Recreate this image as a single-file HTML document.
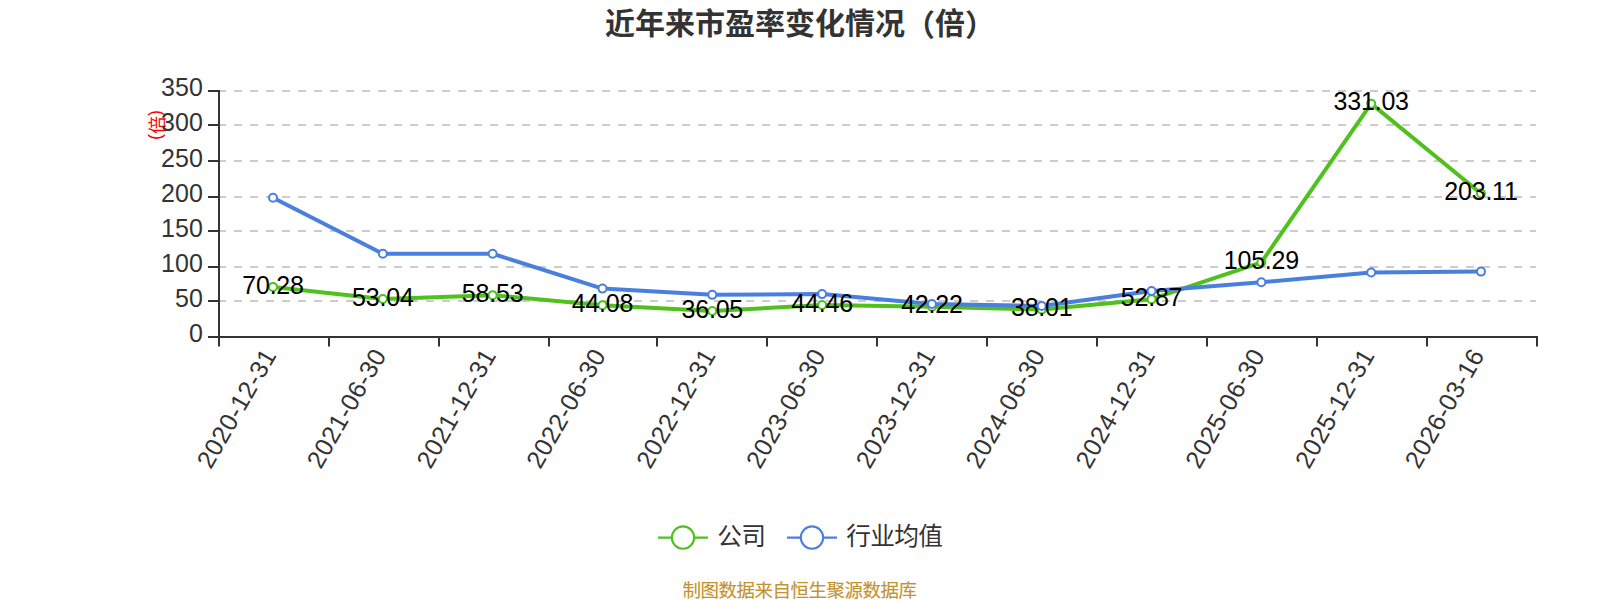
<!DOCTYPE html>
<html lang="zh-CN"><head><meta charset="utf-8"><title>近年来市盈率变化情况（倍）</title>
<style>
html,body{margin:0;padding:0;background:#fff;}
body{width:1600px;height:600px;overflow:hidden;position:relative;font-family:"Liberation Sans","Noto Sans CJK SC",sans-serif;}
svg{position:absolute;left:0;top:0;display:block}
text{font-family:"Liberation Sans","Noto Sans CJK SC",sans-serif;}
.cjk{font-family:"Liberation Sans","Noto Sans CJK SC",sans-serif;}
</style></head><body>
<svg width="1600" height="600" viewBox="0 0 1600 600">
<rect width="1600" height="600" fill="#fff"/>
<text class="cjk" x="800" y="33.7" font-size="30" font-weight="bold" fill="#333" text-anchor="middle">近年来市盈率变化情况<tspan dy="2.4">（</tspan><tspan dy="-2.4">倍</tspan><tspan dy="2.4">）</tspan></text>
<g stroke="#ccc" stroke-width="2" stroke-dasharray="8 8">
<line x1="218" y1="301" x2="1536" y2="301"/>
<line x1="218" y1="267" x2="1536" y2="267"/>
<line x1="218" y1="231" x2="1536" y2="231"/>
<line x1="218" y1="197" x2="1536" y2="197"/>
<line x1="218" y1="161" x2="1536" y2="161"/>
<line x1="218" y1="125" x2="1536" y2="125"/>
<line x1="218" y1="91" x2="1536" y2="91"/>
</g>
<g stroke="#333" stroke-width="2">
<line x1="219" y1="90" x2="219" y2="338"/>
<line x1="218" y1="337" x2="1538" y2="337"/>
<line x1="208" y1="337" x2="219" y2="337"/>
<line x1="208" y1="301" x2="219" y2="301"/>
<line x1="208" y1="267" x2="219" y2="267"/>
<line x1="208" y1="231" x2="219" y2="231"/>
<line x1="208" y1="197" x2="219" y2="197"/>
<line x1="208" y1="161" x2="219" y2="161"/>
<line x1="208" y1="125" x2="219" y2="125"/>
<line x1="208" y1="91" x2="219" y2="91"/>
<line x1="219" y1="337" x2="219" y2="346.5"/>
<line x1="329" y1="337" x2="329" y2="346.5"/>
<line x1="439" y1="337" x2="439" y2="346.5"/>
<line x1="549" y1="337" x2="549" y2="346.5"/>
<line x1="657" y1="337" x2="657" y2="346.5"/>
<line x1="767" y1="337" x2="767" y2="346.5"/>
<line x1="877" y1="337" x2="877" y2="346.5"/>
<line x1="987" y1="337" x2="987" y2="346.5"/>
<line x1="1097" y1="337" x2="1097" y2="346.5"/>
<line x1="1207" y1="337" x2="1207" y2="346.5"/>
<line x1="1317" y1="337" x2="1317" y2="346.5"/>
<line x1="1427" y1="337" x2="1427" y2="346.5"/>
<line x1="1537" y1="337" x2="1537" y2="346.5"/>
</g>
<text class="cjk" transform="translate(155.2,125) rotate(-90)" font-size="18" fill="#f00" text-anchor="middle" dominant-baseline="central">(<tspan dy="2.4">倍</tspan><tspan dy="-2.4">)</tspan></text>
<g font-size="25" fill="#333" text-anchor="end">
<text x="202.8" y="342.30">0</text>
<text x="202.8" y="307.16">50</text>
<text x="202.8" y="272.01">100</text>
<text x="202.8" y="236.87">150</text>
<text x="202.8" y="201.73">200</text>
<text x="202.8" y="166.59">250</text>
<text x="202.8" y="131.44">300</text>
<text x="202.8" y="96.30">350</text>
</g>
<g font-size="25" fill="#333" text-anchor="end" letter-spacing="0.5">
<text transform="translate(269.51,350.40) rotate(-60)" dominant-baseline="central">2020-12-31</text>
<text transform="translate(379.33,350.40) rotate(-60)" dominant-baseline="central">2021-06-30</text>
<text transform="translate(489.14,350.40) rotate(-60)" dominant-baseline="central">2021-12-31</text>
<text transform="translate(598.96,350.40) rotate(-60)" dominant-baseline="central">2022-06-30</text>
<text transform="translate(708.78,350.40) rotate(-60)" dominant-baseline="central">2022-12-31</text>
<text transform="translate(818.59,350.40) rotate(-60)" dominant-baseline="central">2023-06-30</text>
<text transform="translate(928.41,350.40) rotate(-60)" dominant-baseline="central">2023-12-31</text>
<text transform="translate(1038.23,350.40) rotate(-60)" dominant-baseline="central">2024-06-30</text>
<text transform="translate(1148.04,350.40) rotate(-60)" dominant-baseline="central">2024-12-31</text>
<text transform="translate(1257.86,350.40) rotate(-60)" dominant-baseline="central">2025-06-30</text>
<text transform="translate(1367.67,350.40) rotate(-60)" dominant-baseline="central">2025-12-31</text>
<text transform="translate(1477.49,350.40) rotate(-60)" dominant-baseline="central">2026-03-16</text>
</g>
<polyline points="273.01,286.90 382.83,299.02 492.64,295.16 602.46,305.32 712.28,310.96 822.09,305.05 931.91,306.63 1041.73,309.58 1151.54,299.14 1261.36,262.30 1371.17,103.63 1480.99,193.54" fill="none" stroke="#50c11c" stroke-width="4" stroke-linejoin="bevel"/>
<g fill="#fff" stroke="#50c11c" stroke-width="2">
<circle cx="273.01" cy="286.90" r="4"/>
<circle cx="382.83" cy="299.02" r="4"/>
<circle cx="492.64" cy="295.16" r="4"/>
<circle cx="602.46" cy="305.32" r="4"/>
<circle cx="712.28" cy="310.96" r="4"/>
<circle cx="822.09" cy="305.05" r="4"/>
<circle cx="931.91" cy="306.63" r="4"/>
<circle cx="1041.73" cy="309.58" r="4"/>
<circle cx="1151.54" cy="299.14" r="4"/>
<circle cx="1261.36" cy="262.30" r="4"/>
<circle cx="1371.17" cy="103.63" r="4"/>
<circle cx="1480.99" cy="193.54" r="4"/>
</g>
<polyline points="273.01,197.75 382.83,253.75 492.64,253.75 602.46,288.60 712.28,294.85 822.09,294.10 931.91,304.00 1041.73,305.90 1151.54,291.00 1261.36,282.25 1371.17,272.50 1480.99,271.60" fill="none" stroke="#4a7fe0" stroke-width="4" stroke-linejoin="bevel"/>
<g fill="#fff" stroke="#4a7fe0" stroke-width="2">
<circle cx="273.01" cy="197.75" r="4"/>
<circle cx="382.83" cy="253.75" r="4"/>
<circle cx="492.64" cy="253.75" r="4"/>
<circle cx="602.46" cy="288.60" r="4"/>
<circle cx="712.28" cy="294.85" r="4"/>
<circle cx="822.09" cy="294.10" r="4"/>
<circle cx="931.91" cy="304.00" r="4"/>
<circle cx="1041.73" cy="305.90" r="4"/>
<circle cx="1151.54" cy="291.00" r="4"/>
<circle cx="1261.36" cy="282.25" r="4"/>
<circle cx="1371.17" cy="272.50" r="4"/>
<circle cx="1480.99" cy="271.60" r="4"/>
</g>
<g font-size="25" fill="#000" text-anchor="middle" letter-spacing="-0.2">
<text x="273.01" y="293.60">70.28</text>
<text x="382.83" y="305.72">53.04</text>
<text x="492.64" y="301.86">58.53</text>
<text x="602.46" y="312.02">44.08</text>
<text x="712.28" y="317.66">36.05</text>
<text x="822.09" y="311.75">44.46</text>
<text x="931.91" y="313.33">42.22</text>
<text x="1041.73" y="316.28">38.01</text>
<text x="1151.54" y="305.84">52.87</text>
<text x="1261.36" y="269.00">105.29</text>
<text x="1371.17" y="110.33">331.03</text>
<text x="1480.99" y="200.24">203.11</text>
</g>
<line x1="658" y1="537.6" x2="708" y2="537.6" stroke="#50c11c" stroke-width="2.1"/>
<circle cx="683" cy="537.6" r="11.2" fill="#fff" stroke="#50c11c" stroke-width="2.1"/>
<text class="cjk" x="717.2" y="545.1" font-size="24.7" letter-spacing="-0.7" fill="#333">公司</text>
<line x1="787" y1="537.6" x2="837" y2="537.6" stroke="#4a7fe0" stroke-width="2.1"/>
<circle cx="812" cy="537.6" r="11.2" fill="#fff" stroke="#4a7fe0" stroke-width="2.1"/>
<text class="cjk" x="846.2" y="545.1" font-size="24.7" letter-spacing="-0.7" fill="#333">行业均值</text>
<text class="cjk" x="799.6" y="597" font-size="18.5" letter-spacing="-0.5" fill="#c4912c" stroke="#c4912c" stroke-width="0.12" text-anchor="middle">制图数据来自恒生聚源数据库</text>
</svg></body></html>
